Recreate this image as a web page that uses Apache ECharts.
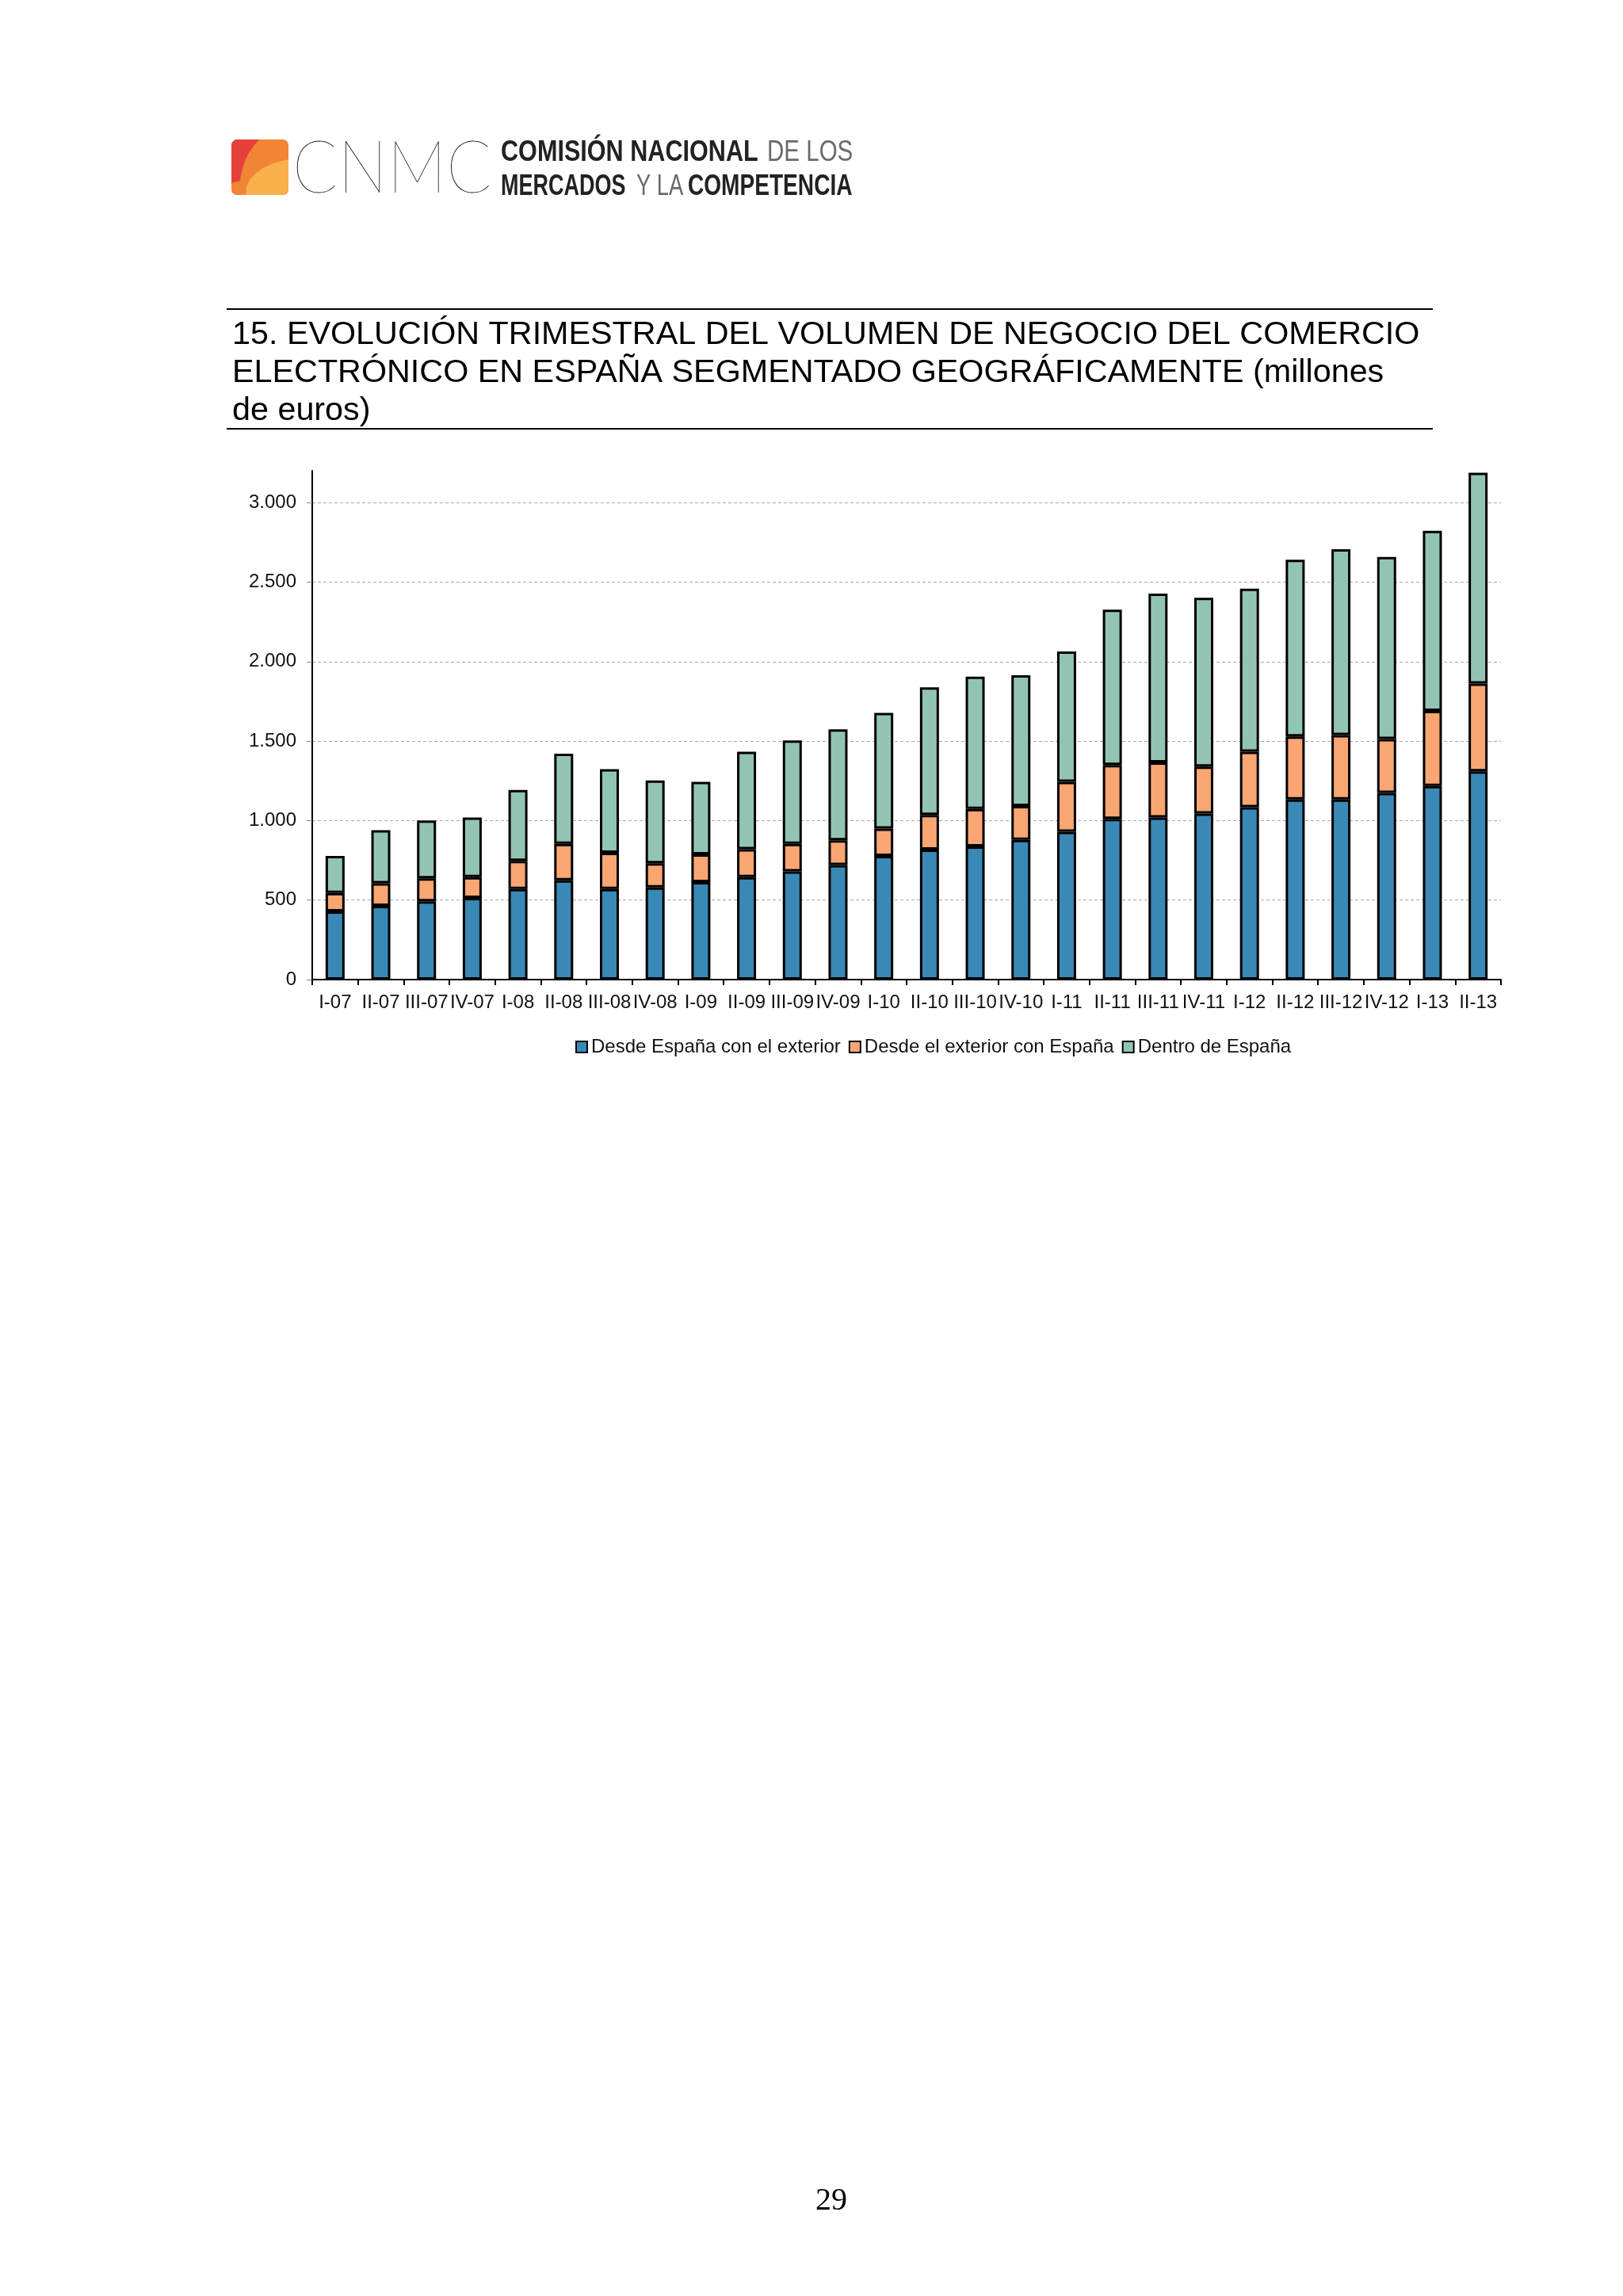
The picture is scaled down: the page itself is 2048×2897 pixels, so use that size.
<!DOCTYPE html>
<html><head><meta charset="utf-8">
<script src="https://cdn.jsdelivr.net/npm/echarts@6/dist/echarts.min.js"></script>
<style>html,body{margin:0;padding:0;background:#fff}#c{width:2048px;height:2897px}</style>
</head><body><div id="c"></div>
<script>
const categories = ['I-07','II-07','III-07','IV-07','I-08','II-08','III-08','IV-08','I-09','II-09','III-09','IV-09','I-10','II-10','III-10','IV-10','I-11','II-11','III-11','IV-11','I-12','II-12','III-12','IV-12','I-13','II-13'];
const desdeEspanaConExterior = [429,463,492,514,570,624,570,579,613,644,680,720,778,818,838,879,930,1010,1019,1044,1084,1133,1133,1174,1218,1310];
const desdeExteriorConEspana = [116,143,145,130,177,230,228,152,174,176,174,156,172,217,235,212,313,340,347,295,349,396,405,339,472,552];
const dentroDeEspana = [233,333,364,375,445,566,525,521,456,613,650,698,727,803,832,823,820,977,1062,1062,1026,1111,1169,1145,1133,1326];
const seriesNames = ['Desde España con el exterior','Desde el exterior con España','Dentro de España'];
const seriesColors = ['#3a88b5','#f9a673','#92c4b4'];

const chart = echarts.init(document.getElementById('c'), null, {renderer:'canvas'});
const fmt = v => String(v).replace(/\B(?=(\d{3})+(?!\d))/g, '.');
const sans = 'Liberation Sans, Arial, sans-serif';

const dataSets = [desdeEspanaConExterior, desdeExteriorConEspana, dentroDeEspana];

function logoWord(text, x, y, sx, bold) {
  return {type: 'text', x: x, y: y, scaleX: sx, scaleY: 1.05, originX: 0, originY: 0,
    style: {text: text, fontSize: 36, fontWeight: bold ? 'bold' : 'normal', fontFamily: sans,
      fill: bold ? '#222' : '#6a6a6a', verticalAlign: 'top', align: 'left'}};
}

chart.setOption({
  animation: false,
  backgroundColor: '#ffffff',
  textStyle: {fontFamily: sans},
  grid: {left: 394, right: 154, top: 594, bottom: 1661, containLabel: false},
  legend: {
    left: 721, top: 1304,
    itemWidth: 14, itemHeight: 14, itemGap: 10,
    icon: 'rect',
    textStyle: {fontSize: 24, color: '#111', fontFamily: sans},
    data: seriesNames
  },
  xAxis: {
    type: 'category', data: categories,
    axisLine: {lineStyle: {color: '#000', width: 2}},
    axisTick: {show: true, length: 7, lineStyle: {color: '#000', width: 2}},
    axisLabel: {interval: 0, fontSize: 24, color: '#111', margin: 17, fontFamily: sans}
  },
  yAxis: {
    type: 'value', min: 0, max: 3200, interval: 500,
    axisLine: {show: true, lineStyle: {color: '#000', width: 2}},
    axisTick: {show: true, length: 7, lineStyle: {color: '#888', width: 1}},
    axisLabel: {fontSize: 24, color: '#111', margin: 20, showMaxLabel: false, formatter: fmt, fontFamily: sans},
    splitLine: {show: true, lineStyle: {type: [4,3], width: 1, color: ['#a8a8a8','#a8a8a8','#a8a8a8','#a8a8a8','#a8a8a8','#a8a8a8','#a8a8a8','rgba(0,0,0,0)']}}
  },
  series: dataSets.map((d, i) => ({
    name: seriesNames[i], type: 'bar', stack: 'total', data: d,
    barWidth: 24,
    itemStyle: {color: seriesColors[i], borderColor: '#000', borderWidth: 3}
  })),
  graphic: [
    {type: 'rect', shape: {x: 292, y: 176, width: 72, height: 70, r: 7}, style: {fill: '#ef8535'}},
    {type: 'polygon', shape: {points: [[297,176],[327,176],[320,184],[314,193],[309,203],[306,213],[304,221],[303,228],[292,231],[292,181]]}, style: {fill: '#e6403a'}},
    {type: 'polygon', shape: {points: [[310,246],[311,236],[315,227],[322,219],[332,212],[345,206],[364,201],[364,240],[358,246]]}, style: {fill: '#f9b04a'}},
    {type: 'text', x: 369, y: 166, scaleX: 0.9, originX: 0, originY: 0,
      style: {text: 'CNMC', fontSize: 93, fontFamily: 'Lato, Open Sans, sans-serif', fontWeight: 100, fill: '#222', verticalAlign: 'top'}},
    logoWord('COMISIÓN NACIONAL', 632, 174, 0.85, true),
    logoWord('DE LOS', 968, 174, 0.82, false),
    logoWord('MERCADOS', 632, 217, 0.75, true),
    logoWord('Y LA', 803, 217, 0.76, false),
    logoWord('COMPETENCIA', 868, 217, 0.78, true),
    {type: 'line', shape: {x1: 286, y1: 390, x2: 1808, y2: 390}, style: {stroke: '#000', lineWidth: 2}},
    {type: 'line', shape: {x1: 286, y1: 541, x2: 1808, y2: 541}, style: {stroke: '#000', lineWidth: 2}},
    {type: 'text', left: 293, top: 402, style: {text: '15. EVOLUCIÓN TRIMESTRAL DEL VOLUMEN DE NEGOCIO DEL COMERCIO', fontSize: 41.3, fontFamily: sans, fill: '#000'}},
    {type: 'text', left: 293, top: 450, style: {text: 'ELECTRÓNICO EN ESPAÑA SEGMENTADO GEOGRÁFICAMENTE (millones', fontSize: 41.3, fontFamily: sans, fill: '#000'}},
    {type: 'text', left: 293, top: 498, style: {text: 'de euros)', fontSize: 41.3, fontFamily: sans, fill: '#000'}},
    {type: 'text', left: 1029, top: 2757, style: {text: '29', fontSize: 40, fontFamily: 'Liberation Serif, Times New Roman, serif', fill: '#000'}}
  ]
});
</script></body></html>
